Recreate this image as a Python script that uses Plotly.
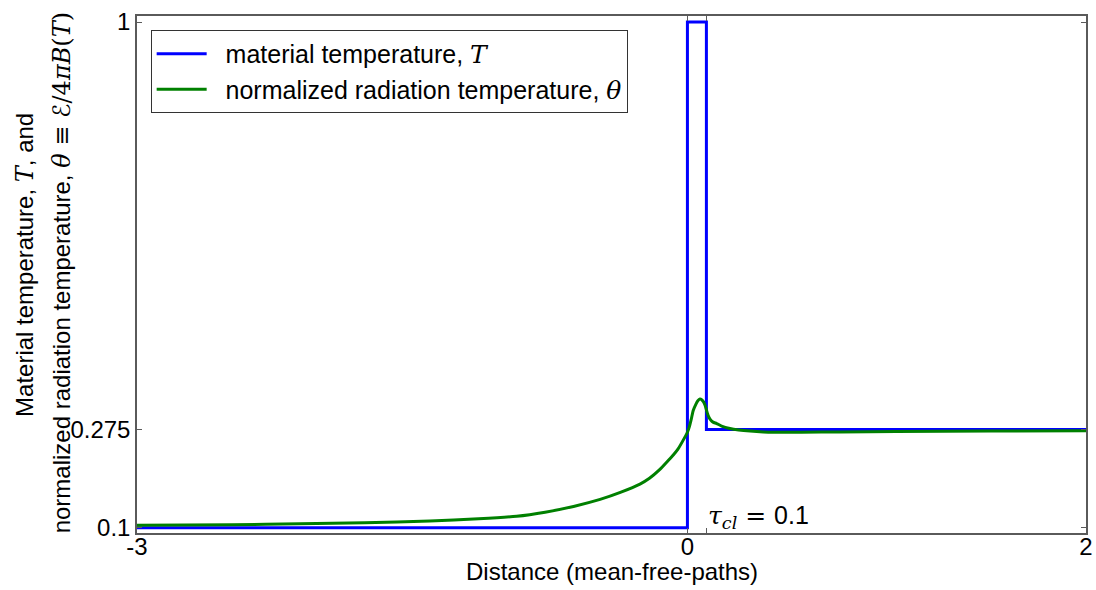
import plotly.graph_objects as go

# Material temperature: step profile across the cloud slab
t_x = [-3.0, -0.1, 0.0, 2.0]
t_val = [0.1, 1.0, 0.275, 0.275]

# Normalized radiation temperature
theta_x = [-3.0, -2.5, -2.14, -1.8, -1.457, -1.2, -1.0, -0.85, -0.7, -0.56, -0.45,
           -0.35, -0.30, -0.245, -0.2, -0.1745, -0.15, -0.122, -0.1, -0.09, -0.08, -0.069,
           -0.055, -0.045, -0.034, -0.025, -0.015, -0.007, 0.0, 0.01, 0.02, 0.035,
           0.054, 0.08, 0.124, 0.17, 0.23, 0.3, 0.353, 0.5, 0.704, 1.0, 1.5, 2.0]
theta_val = [0.1045, 0.1055, 0.107, 0.109, 0.112, 0.116, 0.1205, 0.1278, 0.1380, 0.1505, 0.1634,
             0.1777, 0.1880, 0.2038, 0.2200, 0.2295, 0.240, 0.256, 0.270, 0.2795, 0.293, 0.309,
             0.320, 0.326, 0.329, 0.328, 0.324, 0.318, 0.310, 0.299, 0.293, 0.288,
             0.2855, 0.281, 0.2766, 0.274, 0.272, 0.2705, 0.270, 0.2700, 0.2706, 0.2712, 0.2720, 0.2727]

x_ticks = [-3, -0.1, 0, 2]
x_ticktext = ["-3", "0", "", "2"]
y_ticks = [0.1, 0.275, 1]
y_ticktext = ["0.1", "0.275", "1"]

SANS = "Liberation Sans, Arial, sans-serif"
SERIF = "DejaVu Serif"
AXIS_COLOR = "#5a5a5a"
PAD = "\u00a0\u00a0"

fig = go.Figure()
fig.add_trace(go.Scatter(
    x=t_x, y=t_val, mode="lines", line_shape="hv",
    line=dict(color="#0000ff", width=3),
    name=f"{PAD}material temperature, <span style='font-family:{SERIF}'><i>T</i></span>",
))
fig.add_trace(go.Scatter(
    x=theta_x, y=theta_val, mode="lines", line_shape="spline",
    line=dict(color="#008000", width=3, smoothing=0.6),
    name=f"{PAD}normalized radiation temperature, <span style='font-family:{SERIF}'><i>θ</i></span>",
))

axis_common = dict(
    showline=True, linecolor=AXIS_COLOR, linewidth=1.5, mirror="ticks",
    ticks="inside", ticklen=5, tickcolor=AXIS_COLOR, tickwidth=1,
    showgrid=False, zeroline=False, automargin=False,
    tickfont=dict(family=SANS, size=24, color="#000000"),
)

fig.update_xaxes(
    range=[-3, 2], tickmode="array", tickvals=x_ticks, ticktext=x_ticktext,
    ticklabelstandoff=-9,
    **axis_common,
)
fig.update_yaxes(
    range=[0.0907, 1.0107], tickmode="array", tickvals=y_ticks, ticktext=y_ticktext,
    **axis_common,
)

# x-axis label
fig.add_annotation(
    xref="paper", yref="paper", x=0.5, y=(532.7 - 571) / 516.7,
    xanchor="center", yanchor="middle", showarrow=False,
    text="Distance (mean-free-paths)",
    font=dict(family=SANS, size=24, color="#000000"),
)

# Two-line y-axis label
fig.add_annotation(
    xref="paper", yref="paper", x=(26 - 137.3) / 948.7, y=0.5178,
    xanchor="center", yanchor="middle", textangle=-90, showarrow=False,
    text=f"Material temperature, <span style='font-family:{SERIF}'><i>T</i></span>, and",
    font=dict(family=SANS, size=24, color="#000000"),
)
fig.add_annotation(
    xref="paper", yref="paper", x=(62 - 137.3) / 948.7, y=0.5035,
    xanchor="center", yanchor="middle", textangle=-90, showarrow=False,
    text=(f"normalized radiation temperature, <span style='font-family:{SERIF}'>"
          "<i>θ</i> ≡ </span><span style='font-family:DejaVu Sans'>ℰ</span>"
          f"<span style='font-family:{SERIF}'>/4<i>π</i><i>B</i>(<i>T</i>)</span>"),
    font=dict(family=SANS, size=24, color="#000000"),
)

# Cloud optical thickness label
fig.add_annotation(
    x=0.0, y=0.1187, xref="x", yref="y", xanchor="left", yanchor="middle", showarrow=False,
    text=f"<span style='font-family:{SERIF}'><i>τ</i><sub><i>cl</i></sub> = </span>0.1",
    font=dict(family=SANS, size=25, color="#000000"),
)

fig.update_layout(
    width=1096, height=590,
    margin=dict(l=137, r=10, t=16, b=57),
    paper_bgcolor="white", plot_bgcolor="white",
    showlegend=True,
    legend=dict(
        x=0.0144, y=0.973, xanchor="left", yanchor="top",
        bordercolor="#333333", borderwidth=1, bgcolor="white",
        font=dict(family=SANS, size=25, color="#000000"),
        itemwidth=50, tracegroupgap=0,
    ),
)

fig.write_html("out.html")
